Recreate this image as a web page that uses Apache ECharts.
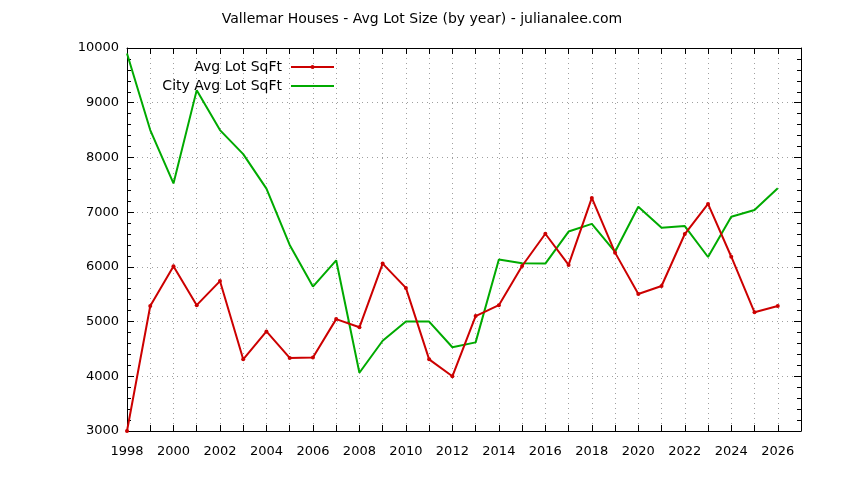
<!DOCTYPE html>
<html><head><meta charset="utf-8">
<script src="https://cdn.jsdelivr.net/npm/echarts@6/dist/echarts.min.js"></script>
<style>html,body{margin:0;padding:0;background:#fff}#c{width:844px;height:480px}</style>
</head><body><div id="c"></div>
<script>
const years = [1998,1999,2000,2001,2002,2003,2004,2005,2006,2007,2008,2009,2010,2011,2012,2013,2014,2015,2016,2017,2018,2019,2020,2021,2022,2023,2024,2025,2026];
const avgLot = [3000,5285,6010,5300,5740,4310,4820,4335,4345,5045,4895,6060,5615,4310,4000,5100,5300,6015,6605,6035,7260,6260,5505,5650,6600,7150,6185,5170,5285];
const cityAvgLot = [9900,8500,7525,9230,8500,8060,7430,6400,5640,6120,4065,4650,5000,5000,4530,4620,6135,6065,6060,6645,6785,6275,7100,6715,6745,6180,6915,7040,7435];
const seriesNames = ['Avg Lot SqFt','City Avg Lot SqFt'];
const titleText = 'Vallemar Houses - Avg Lot Size (by year) - julianalee.com';

const FONT = 'DejaVu Sans';
const chart = echarts.init(document.getElementById('c'), null, {renderer:'canvas'});
const pairs = a => years.map((y,i)=>[y,a[i]]);
const axisLineStyle = {color:'#000', width:1};
chart.setOption({
  animation:false,
  backgroundColor:'#fff',
  title:{text:titleText, left:'center', top:7, textStyle:{fontFamily:FONT, fontSize:14, fontWeight:'normal', color:'#000'}},
  legend:{
    orient:'vertical', right:509, top:59, align:'right', itemWidth:43, itemHeight:5, itemGap:3, padding:0,
    selectedMode:false,
    textStyle:{fontFamily:FONT, fontSize:14, color:'#000', lineHeight:16, padding:[0,4,0,0]},
    data:[{name:seriesNames[0]},{name:seriesNames[1], itemStyle:{opacity:0}}]
  },
  grid:{left:127, right:43, top:48, bottom:49, show:false},
  xAxis:[{
    type:'value', min:1998, max:2027, interval:1, position:'bottom',
    axisLine:{show:true, lineStyle:axisLineStyle},
    axisTick:{show:true, inside:true, length:6, lineStyle:{color:'#000'}},
    axisLabel:{fontFamily:FONT, fontSize:13, color:'#000', margin:14,
      formatter:v => (v%2===0 && v<=2026) ? String(v) : ''},
    splitLine:{show:true, lineStyle:{color:'#a0a0a0', type:[1,4], width:1}}
  },{
    type:'value', min:1998, max:2027, interval:1, position:'top',
    axisLine:{show:true, lineStyle:axisLineStyle},
    axisTick:{show:true, inside:true, length:6, lineStyle:{color:'#000'}},
    axisLabel:{show:false}, splitLine:{show:false}
  }],
  yAxis:[{
    type:'value', min:3000, max:10000, interval:1000, position:'left',
    axisLine:{show:true, lineStyle:axisLineStyle},
    axisTick:{show:true, inside:true, length:7, lineStyle:{color:'#000'}},
    minorTick:{show:true, splitNumber:5, length:4, lineStyle:{color:'#000'}},
    axisLabel:{fontFamily:FONT, fontSize:13, color:'#000', margin:8, formatter:v => String(v)},
    splitLine:{show:true, lineStyle:{color:'#a0a0a0', type:[1,4], width:1}}
  },{
    type:'value', min:3000, max:10000, interval:1000, position:'right',
    axisLine:{show:true, lineStyle:axisLineStyle},
    axisTick:{show:true, inside:true, length:7, lineStyle:{color:'#000'}},
    minorTick:{show:true, splitNumber:5, length:4, lineStyle:{color:'#000'}},
    axisLabel:{show:false}, splitLine:{show:false}
  }],
  series:[{
    name:seriesNames[0], type:'line', data:pairs(avgLot), xAxisIndex:0, yAxisIndex:0,
    symbol:'circle', symbolSize:4, showSymbol:true,
    lineStyle:{color:'#cc0000', width:2}, itemStyle:{color:'#cc0000'}, z:3
  },{
    name:seriesNames[1], type:'line', data:pairs(cityAvgLot), xAxisIndex:0, yAxisIndex:0,
    symbol:'none', showSymbol:false,
    lineStyle:{color:'#00aa00', width:2}, itemStyle:{color:'#00aa00'}, z:2
  }]
});
</script></body></html>
